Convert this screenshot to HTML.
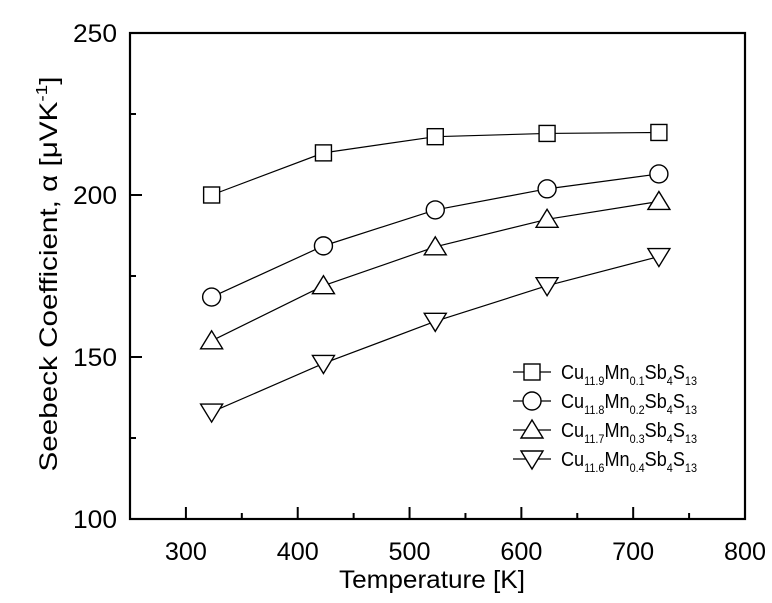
<!DOCTYPE html>
<html><head><meta charset="utf-8"><style>
html,body{margin:0;padding:0;background:#fff;}
svg{display:block;font-family:"Liberation Sans",Arial,sans-serif;}
</style></head><body>
<svg id="chart" width="772" height="603" viewBox="0 0 772 603">
<rect x="130" y="33" width="615" height="486" fill="none" stroke="#000" stroke-width="2.2"/>
<g id="axes"></g>
<g id="series"></g>
<text x="432" y="588" font-size="25" text-anchor="middle" textLength="186" lengthAdjust="spacingAndGlyphs">Temperature [K]</text>
<text transform="translate(57,274) rotate(-90)" font-size="25" text-anchor="middle" textLength="395" lengthAdjust="spacingAndGlyphs">Seebeck Coefficient, α [μVK<tspan dy="-10" font-size="16">-1</tspan><tspan dy="10">]</tspan></text>
<g id="legend"></g>
</svg>
<script>
const temps = [323, 423, 523, 623, 723];
const s1 = [200, 213, 218, 219, 219.3];
const s2 = [168.5, 184.3, 195.4, 201.9, 206.5];
const s3 = [155, 172, 184, 192.5, 198];
const s4 = [133, 148, 161, 172, 181];
const xTicks = [300, 400, 500, 600, 700, 800];
const yTicks = [100, 150, 200, 250];
const seriesLabels = [["11.9","0.1"],["11.8","0.2"],["11.7","0.3"],["11.6","0.4"]];
const markers = ["square","circle","up","down"];

const NS = "http://www.w3.org/2000/svg";
const X0=130, X1=745, Y0=519, Y1=33;
const xs = v => X0 + (v-250)/(800-250)*(X1-X0);
const ys = v => Y0 - (v-100)/(250-100)*(Y0-Y1);
function mk(tag, attrs, parent){const e=document.createElementNS(NS,tag);for(const k in attrs)e.setAttribute(k,attrs[k]);parent.appendChild(e);return e;}
const axes=document.getElementById('axes');
for(let v=300; v<=750; v+=50){
  const major = xTicks.includes(v);
  const t=mk('line',{x1:xs(v),x2:xs(v),y1:Y0,y2:Y0-(major?12:6),stroke:'#000','stroke-width':2},axes);
  
  
}
xTicks.forEach(v=>{
  const t=mk('text',{x:xs(v),y:560,'font-size':25,'text-anchor':'middle',textLength:42,lengthAdjust:'spacingAndGlyphs'},axes);
  t.textContent=v;
  
  
});
for(let v=125; v<250; v+=25){
  const major = yTicks.includes(v);
  const t=mk('line',{x1:X0,x2:X0+(major?12:6),y1:ys(v),y2:ys(v),stroke:'#000','stroke-width':2},axes);
  
  
}
yTicks.forEach(v=>{
  const t=mk('text',{x:117,y:ys(v)+9,'font-size':25,'text-anchor':'end',textLength:44,lengthAdjust:'spacingAndGlyphs'},axes);
  t.textContent=v;
  
  
});
function marker(type,x,y,parent){
  const st={fill:'#fff',stroke:'#000','stroke-width':1.4};
  let e;
  if(type==='square') e=mk('rect',Object.assign({x:x-8,y:y-8,width:16,height:16},st),parent);
  else if(type==='circle') e=mk('circle',Object.assign({cx:x,cy:y,r:9},st),parent);
  else if(type==='up') e=mk('polygon',Object.assign({points:`${x},${y-10} ${x-11},${y+8} ${x+11},${y+8}`},st),parent);
  else e=mk('polygon',Object.assign({points:`${x-11},${y-8} ${x+11},${y-8} ${x},${y+10}`},st),parent);
  return e;
}
const sg=document.getElementById('series');
[s1,s2,s3,s4].forEach((s,i)=>{
  const g=mk('g',{},sg);
  
  
  const p=mk('polyline',{points:temps.map((t,j)=>xs(t)+','+ys(s[j])).join(' '),fill:'none',stroke:'#000','stroke-width':1.2},g);
  
  
  temps.forEach((t,j)=>{
    const m=marker(markers[i],xs(t),ys(s[j]),g);
    
    
  });
});
const lg=document.getElementById('legend');
seriesLabels.forEach((l,i)=>{
  const y=372+i*29;
  const g=mk('g',{},lg);
  
  
  mk('line',{x1:513,x2:551,y1:y,y2:y,stroke:'#000','stroke-width':1.2},g);
  marker(markers[i],532,y,g);
  const t=mk('text',{x:561,y:y+7,'font-size':20,textLength:136,lengthAdjust:'spacingAndGlyphs'},g);
  t.innerHTML=`Cu<tspan font-size="12" dy="6">${l[0]}</tspan><tspan dy="-6">Mn</tspan><tspan font-size="12" dy="6">${l[1]}</tspan><tspan dy="-6">Sb</tspan><tspan font-size="12" dy="6">4</tspan><tspan dy="-6">S</tspan><tspan font-size="12" dy="6">13</tspan>`;
});
</script>
</body></html>
